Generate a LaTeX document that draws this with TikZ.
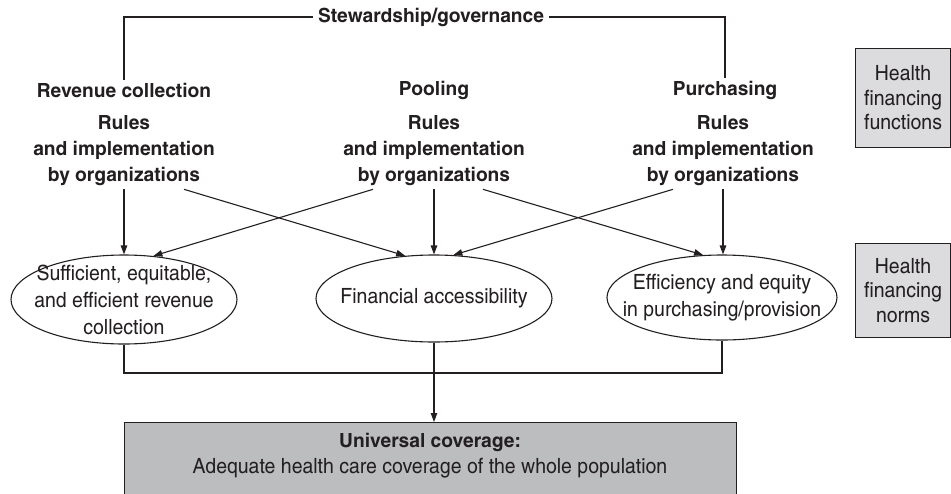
\documentclass[tikz,border=0pt]{standalone}
\usepackage{fontspec}
\setmainfont{texgyreheroscn}[Extension=.otf,UprightFont=*-regular,BoldFont=*-bold,
  UprightFeatures={FakeStretch=1.13},BoldFeatures={FakeStretch=1.2}]
\usetikzlibrary{shapes.geometric,arrows.meta}
\definecolor{inkgray}{HTML}{231F20}
\definecolor{boxlight}{HTML}{DCDCDE}
\definecolor{boxdark}{HTML}{BCBDBF}

\begin{document}
\begin{tikzpicture}[x=1pt,y=-1pt]
  \tikzset{
    head/.style={font=\bfseries\fontsize{19.5}{26}\selectfont,text=inkgray,inner sep=3pt},
    rules/.style={head,align=center},
    norm/.style={font=\fontsize{21}{27}\selectfont,text=inkgray,align=center,inner sep=0pt},
    bubble/.style={draw=inkgray,ellipse,line width=1.1pt,inner sep=0pt},
    side/.style={draw=inkgray,fill=boxlight,font=\fontsize{21}{24.5}\selectfont,text=inkgray,
      align=center,anchor=north west,line width=1.1pt,minimum width=95pt},
    link/.style={draw=inkgray,line width=1.1pt},
    flow/.style={link,-{Triangle[length=9pt,width=6.5pt]}},
  }
  \useasboundingbox (0,0) rectangle (951,493);

  % Functions: stewardship over the three columns.
  \node[head,fill=white,inner xsep=5pt] (sg) at (431,17) {Stewardship/governance};
  \node[head] (rc) at (124,90) {Revenue collection};
  \node[head] (po) at (434,90) {Pooling};
  \node[head] (pu) at (725,90) {Purchasing};
  \draw[link] (sg.west) -| (rc.north);
  \draw[link] (sg.east) -| (pu.north);

  \node[rules] (r1) at (124,151) {Rules\\and implementation\\by organizations};
  \node[rules] (r2) at (434,151) {Rules\\and implementation\\by organizations};
  \node[rules] (r3) at (723,151) {Rules\\and implementation\\by organizations};

  % Norms.
  \node[bubble,minimum width=226pt,minimum height=89pt] (e1) at (124,299.5) {};
  \node[norm] (e1t) at (e1) {Sufficient, equitable,\\and efficient revenue\\collection};
  \node[bubble,minimum width=236pt,minimum height=87pt] (e2) at (434,298.5) {};
  \node[norm] (e2t) at (e2) {Financial accessibility};
  \node[bubble,minimum width=230pt,minimum height=85pt] (e3) at (722,297.5) {};
  \node[norm] (e3t) at (e3) {Efficiency and equity\\in purchasing/provision};

  \draw[flow] (r1.south) -- (r1.south |- e1.north);
  \draw[flow] (r2.south) -- (r2.south |- e2.north);
  \draw[flow] (r3.south) -- (r3.south |- e3.north);
  \draw[flow] ([xshift=60pt]r1.south) -- (e2.124);
  \draw[flow] ([xshift=-61pt]r2.south) -- (e1.56);
  \draw[flow] ([xshift=49pt]r2.south) -- (e3.114);
  \draw[flow] ([xshift=-50pt]r3.south) -- (e2.66);

  % Side labels.
  \node[side,minimum height=99pt] (fn) at (855,48) {Health\\financing\\functions};
  \node[side,minimum height=94pt] (nm) at (855,243) {Health\\financing\\norms};

  % Outcome, box runs past the lower edge.
  \coordinate (hub) at (434,373);
  \node[draw=inkgray,fill=boxdark,line width=1.1pt,anchor=north west,minimum width=612pt,
    minimum height=90pt] (uc) at (124,422) {};
  \node[norm,font=\fontsize{21}{26}\selectfont] (uct) at (430,456)
    {{\bfseries\fontsize{19.5}{26}\selectfont Universal coverage:}\\Adequate health care coverage of the whole population};
  \draw[link] (e1.south) -- (e1.south |- hub) -- (e3.south |- hub) -- (e3.south);
  \draw[link] (e2.south) -- (hub);
  \draw[flow] (hub) -- (hub |- uc.north);
\end{tikzpicture}
\end{document}
